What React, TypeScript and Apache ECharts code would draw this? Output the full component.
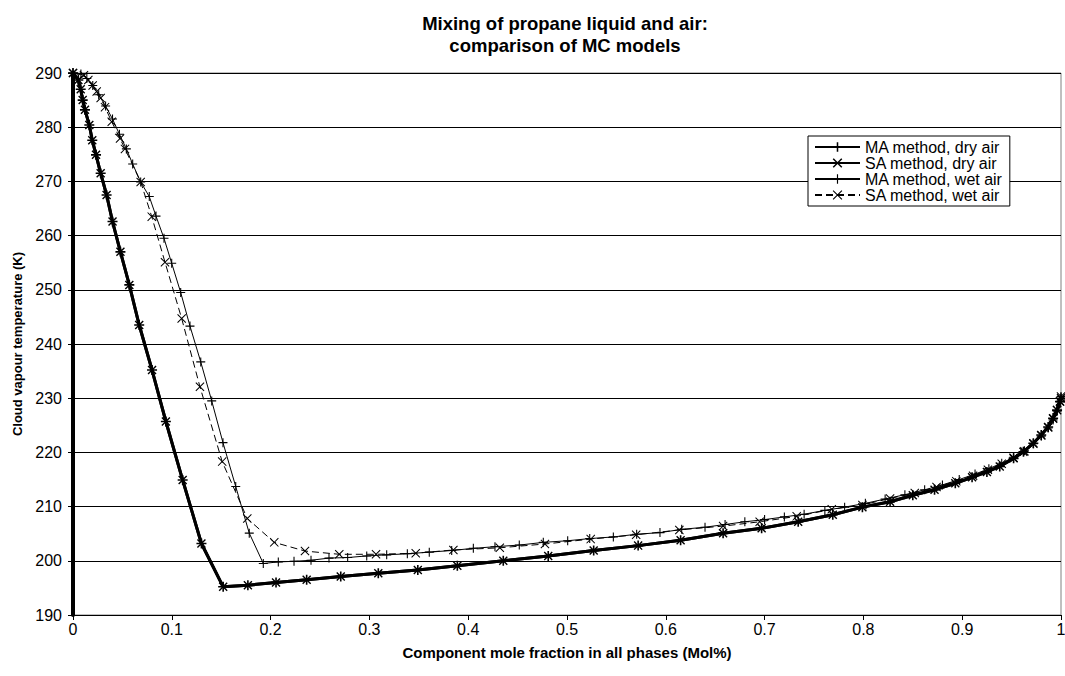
import React, { useEffect, useRef } from "react";
import * as echarts from "echarts";

const titleText = "Mixing of propane liquid and air:\ncomparison of MC models";
const xAxisName = "Component mole fraction in all phases (Mol%)";
const yAxisName = "Cloud vapour temperature (K)";
const seriesNames = ["MA method, dry air", "SA method, dry air", "MA method, wet air", "SA method, wet air"];

const dryX = [0, 0.0054, 0.0078, 0.0098, 0.0121, 0.0165, 0.0195, 0.0233, 0.028, 0.034, 0.04, 0.048, 0.057, 0.067, 0.08, 0.094, 0.111, 0.13, 0.152, 0.177, 0.2055, 0.2365, 0.271, 0.309, 0.349, 0.389, 0.4355, 0.481, 0.527, 0.572, 0.615, 0.658, 0.697, 0.734, 0.769, 0.799, 0.827, 0.85, 0.872, 0.893, 0.91, 0.925, 0.938, 0.952, 0.962, 0.972, 0.98, 0.987, 0.992, 0.996, 0.999, 1.0];
const dryY = [290, 288.7, 287.0, 285.0, 283.2, 280.4, 277.6, 274.9, 271.5, 267.5, 262.6, 257.0, 250.9, 243.5, 235.2, 225.7, 214.9, 203.2, 195.2, 195.5, 196.0, 196.5, 197.1, 197.7, 198.3, 199.1, 200.0, 200.9, 201.9, 202.8, 203.8, 205.1, 206.0, 207.2, 208.5, 209.9, 210.9, 212.1, 213.1, 214.3, 215.4, 216.4, 217.4, 218.9, 220.1, 221.7, 223.2, 224.7, 226.3, 227.8, 229.4, 230.0];

const maWetX = [0, 0.008, 0.014, 0.02, 0.026, 0.033, 0.04, 0.047, 0.054, 0.0604, 0.0685, 0.0772, 0.084, 0.0921, 0.0999, 0.109, 0.1184, 0.1293, 0.1404, 0.1518, 0.1647, 0.1784, 0.1926, 0.2078, 0.2237, 0.2409, 0.2591, 0.278, 0.2973, 0.3175, 0.3384, 0.3606, 0.3833, 0.4052, 0.4271, 0.4517, 0.476, 0.5007, 0.523, 0.5469, 0.5705, 0.5941, 0.6161, 0.6397, 0.66, 0.68, 0.7, 0.72, 0.74, 0.761, 0.781, 0.802, 0.822, 0.842, 0.862, 0.88, 0.897, 0.913, 0.927, 0.94, 0.952, 0.963, 0.972, 0.98, 0.987, 0.992, 0.996, 0.999, 1.0];
const maWetY = [290, 289.8, 289.0, 287.7, 286.0, 283.9, 281.5, 278.7, 276.0, 273.2, 269.9, 267.2, 263.6, 259.5, 254.9, 249.5, 243.3, 236.7, 229.5, 221.8, 213.7, 205.1, 199.5, 199.8, 199.9, 200.1, 200.5, 200.6, 200.9, 201.1, 201.3, 201.6, 201.9, 202.3, 202.6, 202.9, 203.4, 203.7, 204.1, 204.4, 204.9, 205.2, 205.8, 206.2, 206.7, 207.2, 207.6, 208.1, 208.6, 209.3, 209.9, 210.6, 211.4, 212.2, 213.1, 214.0, 215.0, 216.0, 217.0, 218.0, 219.1, 220.3, 221.6, 223.0, 224.5, 226.0, 227.6, 229.3, 230.3];

const saWetX = [0, 0.0111, 0.0155, 0.0199, 0.024, 0.028, 0.0324, 0.0392, 0.0476, 0.0526, 0.0685, 0.0797, 0.0931, 0.11, 0.1285, 0.151, 0.1764, 0.2037, 0.2348, 0.2695, 0.3067, 0.3469, 0.385, 0.432, 0.4777, 0.524, 0.57, 0.6137, 0.658, 0.695, 0.7325, 0.768, 0.799, 0.827, 0.852, 0.874, 0.894, 0.911, 0.926, 0.94, 0.952, 0.963, 0.972, 0.98, 0.987, 0.992, 0.996, 0.999, 1.0];
const saWetY = [290, 289.6, 288.7, 287.7, 286.6, 285.4, 283.7, 281.0, 277.9, 276.0, 269.9, 263.5, 255.1, 244.7, 232.1, 218.3, 207.8, 203.4, 201.8, 201.2, 201.2, 201.4, 202.0, 202.4, 203.1, 204.0, 204.8, 205.7, 206.4, 207.2, 208.2, 209.5, 210.3, 211.5, 212.5, 213.6, 214.7, 215.7, 216.8, 217.9, 219.0, 220.2, 221.6, 223.1, 224.6, 226.2, 227.8, 229.4, 230.3];

const plusThin = "path://M4.4,0H5.6V4.4H10V5.6H5.6V10H4.4V5.6H0V4.4H4.4Z";
const crossThin = "path://M0,0.8L0.8,0L5,4.2L9.2,0L10,0.8L5.8,5L10,9.2L9.2,10L5,5.8L0.8,10L0,9.2L4.2,5Z";
const plusBold = "path://M4.2,0H5.8V4.2H10V5.8H5.8V10H4.2V5.8H0V4.2H4.2Z";
const crossBold = "path://M0,1.1L1.1,0L5,3.9L8.9,0L10,1.1L6.1,5L10,8.9L8.9,10L5,6.1L1.1,10L0,8.9L3.9,5Z";

const zip = (xs: number[], ys: number[]) => xs.map((x, i) => [x, ys[i]]);

const FONT = "Arial, 'Liberation Sans', sans-serif";

export default function App() {
  const ref = useRef<HTMLDivElement>(null);
  useEffect(() => {
    if (!ref.current) return;
    const chart = echarts.init(ref.current, undefined, { renderer: "svg" });
    const base = {
      type: "line",
      color: "#000",
      itemStyle: { color: "#000" },
      emphasis: { disabled: true },
      clip: true,
      z: 3,
    };
    chart.setOption({
      animation: false,
      backgroundColor: "#fff",
      textStyle: { fontFamily: FONT },
      title: {
        text: titleText,
        left: 560,
        top: 7,
        textAlign: "center",
        textStyle: { fontFamily: FONT, fontSize: 18.5, fontWeight: "bold", color: "#000", lineHeight: 22 },
      },
      legend: {
        orient: "vertical",
        left: 808,
        top: 136,
        padding: [3, 7, 3, 6],
        itemWidth: 45,
        itemHeight: 12,
        itemGap: 0,
        backgroundColor: "#fff",
        borderColor: "#000",
        borderWidth: 1,
        borderRadius: 0,
        textStyle: { fontFamily: FONT, fontSize: 16, color: "#000", lineHeight: 16 },
        data: seriesNames,
      },
      grid: {
        left: 73,
        top: 73,
        right: 4,
        bottom: 61,
        show: true,
        backgroundColor: "#fff",
        borderColor: "#808080",
        borderWidth: 1,
        containLabel: false,
        outerBoundsMode: "none",
      },
      xAxis: {
        type: "value",
        min: 0,
        max: 1,
        interval: 0.1,
        name: xAxisName,
        nameLocation: "middle",
        nameGap: 30,
        nameTextStyle: { fontFamily: FONT, fontSize: 15, fontWeight: "bold", color: "#000" },
        axisLine: { show: true, onZero: false, lineStyle: { color: "#000", width: 1 } },
        axisTick: { show: true, inside: false, length: 5, lineStyle: { color: "#000" } },
        axisLabel: { color: "#000", fontFamily: FONT, fontSize: 16, margin: 6 },
        splitLine: { show: false },
      },
      yAxis: {
        type: "value",
        min: 190,
        max: 290,
        interval: 10,
        name: yAxisName,
        nameLocation: "middle",
        nameRotate: 90,
        nameGap: 49,
        nameTextStyle: { fontFamily: FONT, fontSize: 13, fontWeight: "bold", color: "#000" },
        axisLine: { show: true, onZero: false, lineStyle: { color: "#000", width: 4 } },
        axisTick: { show: true, inside: false, length: 5, lineStyle: { color: "#000", width: 1 } },
        axisLabel: { color: "#000", fontFamily: FONT, fontSize: 16, margin: 11 },
        splitLine: { show: true, lineStyle: { color: "#000", width: 1 } },
      },
      series: [
        {
          ...base,
          name: seriesNames[0],
          data: zip(dryX, dryY),
          symbol: plusBold,
          symbolSize: 10,
          lineStyle: { color: "#000", width: 3 },
        },
        {
          ...base,
          name: seriesNames[1],
          data: zip(dryX, dryY),
          symbol: crossBold,
          symbolSize: 9,
          lineStyle: { color: "#000", width: 3 },
        },
        {
          ...base,
          name: seriesNames[2],
          data: zip(maWetX, maWetY),
          symbol: plusThin,
          symbolSize: 9,
          lineStyle: { color: "#000", width: 1 },
        },
        {
          ...base,
          name: seriesNames[3],
          data: zip(saWetX, saWetY),
          symbol: crossThin,
          symbolSize: 9,
          lineStyle: { color: "#000", width: 1, type: [7, 4] },
        },
      ],
    });
    return () => chart.dispose();
  }, []);
  return (
    <div
      ref={ref}
      style={{ position: "absolute", left: 0, top: 0, width: 1065, height: 676, background: "#fff" }}
    />
  );
}
